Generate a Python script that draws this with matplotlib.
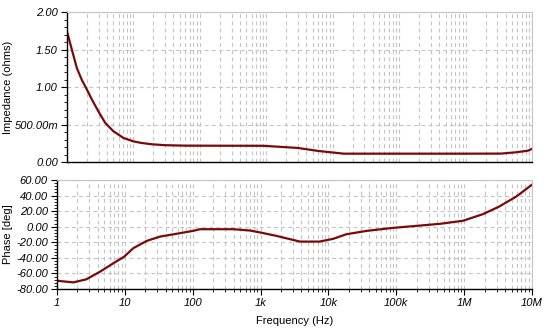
import matplotlib
matplotlib.use("Agg")
import matplotlib.pyplot as plt
from matplotlib.ticker import FixedLocator, FixedFormatter, MultipleLocator, LogLocator, NullFormatter

# ────────────────────────────────────────────────
# Data (frequency in Hz)
# ────────────────────────────────────────────────

imp_freq = [1, 1.19, 1.41, 1.68, 1.93, 2.38, 2.99, 3.77, 5.0, 7.1, 10, 13, 19, 30, 60, 200,
            900, 1500, 3000, 6100, 14700, 100e3, 1e6, 3.4e6, 5.7e6, 8.7e6, 10e6]
impedance = [1.74, 1.49, 1.25, 1.09, 0.99, 0.83, 0.67, 0.52, 0.41, 0.32, 0.275, 0.255, 0.236, 0.224,
             0.218, 0.217, 0.216, 0.204, 0.187, 0.147, 0.111, 0.111, 0.111, 0.112, 0.129, 0.151, 0.175]

ph_freq = [1, 1.74, 2.7, 4.3, 6.75, 9.8, 13.3, 21, 33, 65, 102, 128, 400, 700, 1000, 1720,
           3800, 7400, 11700, 18500, 37000, 89e3, 200e3, 437e3, 960e3, 1.9e6, 3.3e6, 5.9e6, 10e6]
phase = [-69.4, -71.5, -67.6, -57.8, -47, -38.4, -27.6, -18.2, -12.7, -8.3, -5.3, -3.2, -3.2, -4.9,
         -7.5, -11.8, -19.1, -19.1, -15.6, -9.6, -5.3, -1.5, 1.1, 3.7, 7.6, 16.2, 26, 38.9, 54]

freq_ticks = [1, 10, 100, 1e3, 1e4, 1e5, 1e6, 1e7]
freq_labels = ["1", "10", "100", "1k", "10k", "100k", "1M", "10M"]
imp_ticks = [0, 0.5, 1.0, 1.5, 2.0]
imp_labels = ["0.00", "500.00m", "1.00", "1.50", "2.00"]
ph_ticks = [-80, -60, -40, -20, 0, 20, 40, 60]
ph_labels = ["-80.00", "-60.00", "-40.00", "-20.00", "0.00", "20.00", "40.00", "60.00"]

# ────────────────────────────────────────────────
# Plotting
# ────────────────────────────────────────────────

plt.rcParams['font.family'] = ['Liberation Sans', 'DejaVu Sans']
W, H = 548, 336
fig = plt.figure(figsize=(W / 100, H / 100), dpi=100)

line_col = "#7a0a0a"
grid_col = "#c4c4c4"
fs = 8


def px_axes(left, top, right, bottom):
    return fig.add_axes([left / W, 1 - bottom / H, (right - left) / W, (bottom - top) / H])


def style(ax):
    ax.set_xscale("log")
    ax.set_xlim(1, 1e7)
    ax.xaxis.set_major_locator(FixedLocator(freq_ticks))
    ax.xaxis.set_minor_locator(LogLocator(base=10, subs=range(2, 10), numticks=20))
    ax.xaxis.set_minor_formatter(NullFormatter())
    ax.grid(True, which="major", color=grid_col, linestyle=(0, (3.5, 3)), linewidth=0.8)
    ax.grid(True, which="minor", axis="x", color=grid_col, linestyle=(0, (3.5, 3)), linewidth=0.8)
    for s in ("top", "right"):
        ax.spines[s].set_color(grid_col)
    for s in ("left", "bottom"):
        ax.spines[s].set_color("black")
        ax.spines[s].set_linewidth(1.0)
    ax.tick_params(which="both", direction="out", labelsize=fs, colors="black", pad=2.5)
    ax.tick_params(which="major", length=4)
    ax.tick_params(which="minor", length=2)


# impedance panel
ax1 = px_axes(67, 12, 532, 162)
ax1.plot(imp_freq, impedance, color=line_col, linewidth=1.6)
style(ax1)
ax1.set_ylim(0, 2)
ax1.yaxis.set_major_locator(FixedLocator(imp_ticks))
ax1.yaxis.set_major_formatter(FixedFormatter(imp_labels))
ax1.yaxis.set_minor_locator(MultipleLocator(0.1))
ax1.tick_params(axis="x", which="both", length=0, labelbottom=False)
for lab in ax1.get_yticklabels():
    lab.set_style("italic")
ax1.set_ylabel("Impedance (ohms)", fontsize=fs)
ax1.yaxis.set_label_coords(-0.116, 0.5)

# phase panel
ax2 = px_axes(57, 180, 532, 289)
ax2.plot(ph_freq, phase, color=line_col, linewidth=1.6)
style(ax2)
ax2.set_ylim(-80, 60)
ax2.yaxis.set_major_locator(FixedLocator(ph_ticks))
ax2.yaxis.set_major_formatter(FixedFormatter(ph_labels))
ax2.yaxis.set_minor_locator(MultipleLocator(4))
ax2.xaxis.set_major_formatter(FixedFormatter(freq_labels))
for lab in ax2.get_yticklabels() + ax2.get_xticklabels():
    lab.set_style("italic")
ax2.set_ylabel("Phase [deg]", fontsize=fs)
ax2.yaxis.set_label_coords(-0.092, 0.5)
ax2.set_xlabel("Frequency (Hz)", fontsize=fs, labelpad=6)

fig.savefig("out.png", dpi=100)
